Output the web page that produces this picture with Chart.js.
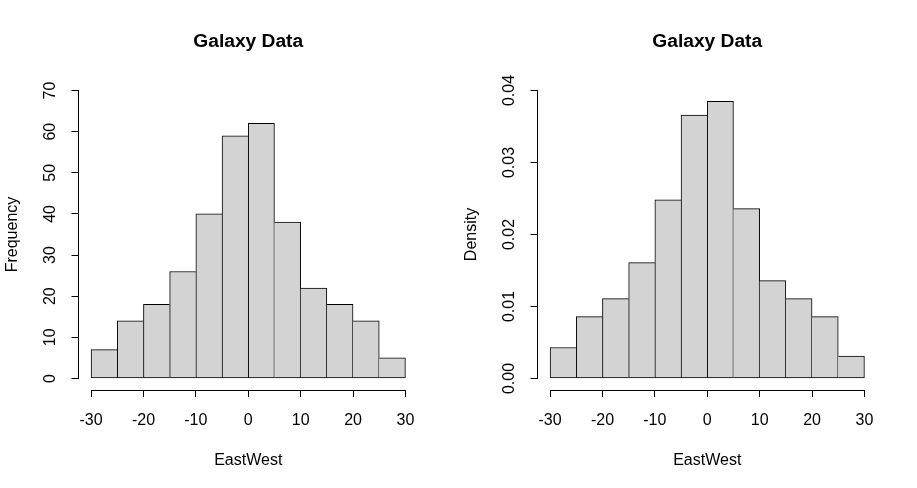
<!DOCTYPE html>
<html>
<head>
<meta charset="utf-8">
<title>Galaxy Data</title>
<script src="https://cdn.jsdelivr.net/npm/chart.js@4"></script>
<style>
  body { margin: 0; background: #fff; }
  .panel { position: absolute; top: 0; width: 458px; height: 488px; }
</style>
</head>
<body>
<div class="panel" style="left:0"><canvas id="freqChart" width="458" height="488"></canvas></div>
<div class="panel" style="left:459px"><canvas id="densChart" width="458" height="488"></canvas></div>
<script>
// bin centres of the histogram (breaks every 5 from -30 to 30)
const binMids = [-27.5, -22.5, -17.5, -12.5, -7.5, -2.5, 2.5, 7.5, 12.5, 17.5, 22.5, 27.5];
const frequency = [7, 14, 18, 26, 40, 59, 62, 38, 22, 18, 14, 5];
const density = [0.0043, 0.0086, 0.0111, 0.0161, 0.0248, 0.0366, 0.0385, 0.0236, 0.0136, 0.0111, 0.0086, 0.0031];
const xTicks = [-30, -20, -10, 0, 10, 20, 30];
const freqTicks = [0, 10, 20, 30, 40, 50, 60, 70];
const densTicks = [0, 0.01, 0.02, 0.03, 0.04];

Chart.defaults.font.family = '"Liberation Sans", Arial, sans-serif';
Chart.defaults.font.size = 16;
Chart.defaults.color = '#000';

// R style detached axis lines + main title
const rAxes = {
  id: 'rAxes',
  afterDraw(chart) {
    const {ctx, chartArea, scales: {x, y}} = chart;
    const yt = chart.options.plugins.rAxes.yTicks;
    ctx.save();
    ctx.strokeStyle = '#000';
    ctx.lineWidth = 1;
    ctx.beginPath();
    const yb = Math.round(chartArea.bottom) + 0.5;
    ctx.moveTo(x.getPixelForValue(xTicks[0]), yb);
    ctx.lineTo(x.getPixelForValue(xTicks[xTicks.length - 1]), yb);
    const xl = Math.round(chartArea.left) - 0.5;
    ctx.moveTo(xl, y.getPixelForValue(yt[0]));
    ctx.lineTo(xl, y.getPixelForValue(yt[yt.length - 1]));
    ctx.stroke();

    ctx.fillStyle = '#000';
    ctx.font = 'bold 19.2px "Liberation Sans", Arial, sans-serif';
    ctx.textAlign = 'center';
    ctx.textBaseline = 'alphabetic';
    ctx.fillText('Galaxy Data', (chartArea.left + chartArea.right) / 2, 46.5);
    ctx.restore();
  }
};

function histChart(id, values, yTicks, yMin, yMax, yTitle, fmt, labelPad) {
  const last = values.length - 1;
  // shared edges drawn once: the taller of two neighbours owns the line
  const edges = (c) => {
    const i = c.dataIndex;
    return {
      top: 1,
      bottom: 1,
      left: (i === 0 || values[i] >= values[i - 1]) ? 1 : 0,
      right: (i === last || values[i] > values[i + 1]) ? 1 : 0
    };
  };
  return new Chart(document.getElementById(id), {
    type: 'bar',
    data: {
      datasets: [{
        data: binMids.map((m, i) => ({x: m, y: values[i]})),
        backgroundColor: '#d3d3d3',
        borderColor: '#000',
        borderSkipped: false,
        borderWidth: edges,
        barPercentage: 1,
        categoryPercentage: 1
      }]
    },
    options: {
      responsive: false,
      animation: false,
      layout: {padding: {top: 79, right: 40, bottom: 0, left: 0}},
      plugins: {
        legend: {display: false},
        tooltip: {enabled: false},
        rAxes: {yTicks: yTicks}
      },
      scales: {
        x: {
          type: 'linear',
          offset: false,
          min: -32.4,
          max: 32.4,
          afterBuildTicks: (s) => { s.ticks = xTicks.map(v => ({value: v})); },
          afterFit: (s) => { s.height = 98; },
          border: {display: false},
          grid: {offset: false, drawOnChartArea: false, drawTicks: true, tickLength: 7, color: '#000', lineWidth: 1},
          ticks: {autoSkip: false, maxRotation: 0, padding: 14, callback: (v) => String(v)},
          title: {display: true, text: 'EastWest', padding: {top: 0, bottom: 18}}
        },
        y: {
          min: yMin,
          max: yMax,
          afterBuildTicks: (s) => { s.ticks = yTicks.map(v => ({value: v})); },
          afterFit: (s) => { s.width = 78.5; },
          border: {display: false},
          grid: {drawOnChartArea: false, drawTicks: true, tickLength: 7, color: '#000', lineWidth: 1},
          ticks: {autoSkip: false, minRotation: 90, maxRotation: 90, crossAlign: 'center', padding: labelPad, callback: fmt},
          title: {display: true, text: yTitle, padding: {top: 2.6, bottom: 0}}
        }
      }
    },
    plugins: [rAxes]
  });
}

histChart('freqChart', frequency, freqTicks, -2.8, 72.8, 'Frequency', (v) => String(v), 12.1);
histChart('densChart', density, densTicks, -0.0016, 0.0416, 'Density', (v) => v.toFixed(2), 5.3);
</script>
</body>
</html>
